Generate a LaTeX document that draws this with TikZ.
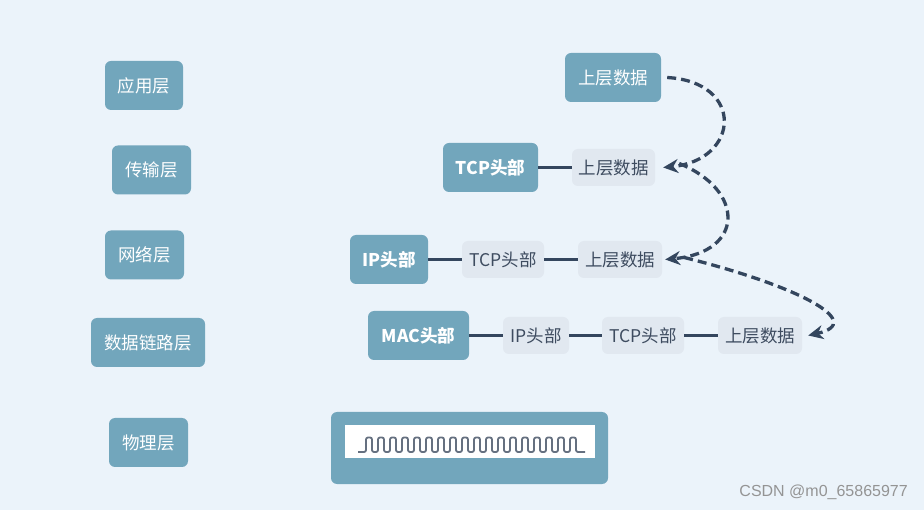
\documentclass[tikz,border=0pt]{standalone}
\usepackage{fontspec}
\setmainfont{Noto Sans CJK SC}
\newfontfamily\wmfont{Liberation Sans}
\usetikzlibrary{arrows.meta}
\definecolor{bgc}{HTML}{EBF3FA}
\definecolor{bluebox}{HTML}{72A6BC}
\definecolor{graybox}{HTML}{E1E8F0}
\definecolor{darkline}{HTML}{34465E}
\definecolor{graytext}{HTML}{3E4C60}
\tikzset{
  layerbox/.style={fill=bluebox, rounded corners=6pt, text=white, font=\fontsize{17.5}{20}\selectfont, inner sep=0pt, minimum height=49pt},
  headbox/.style={fill=bluebox, rounded corners=6pt, text=white, font=\fontsize{17.5}{20}\selectfont\bfseries, inner sep=0pt, minimum height=49pt},
  databox/.style={fill=graybox, rounded corners=6pt, text=graytext, font=\fontsize{17.5}{20}\selectfont, inner sep=0pt, minimum height=37pt},
  link/.style={draw=darkline, line width=2.5pt},
  flow/.style={draw=darkline, line width=3.3pt, dash pattern=on 9pt off 5pt, -{Stealth[length=15pt,width=14pt]}}
}
\begin{document}
\begin{tikzpicture}[x=1pt,y=-1pt]
\fill[bgc] (0,0) rectangle (924,510);
\useasboundingbox (0,0) rectangle (924,510);
% left column
\node[layerbox, minimum width=78pt] (app) at (144,85.5) {应用层};
\node[layerbox, minimum width=79pt] (trans) at (151.5,170) {传输层};
\node[layerbox, minimum width=79pt] (net) at (144.5,255) {网络层};
\node[layerbox, minimum width=114pt] (link) at (148,342.5) {数据链路层};
\node[layerbox, minimum width=79pt] (phys) at (148.5,442.5) {物理层};
% application
\node[layerbox, minimum width=96pt] (d1) at (613,77.5) {上层数据};
% transport
\node[headbox, minimum width=95pt] (tcph) at (490.5,167.5) {TCP头部};
\node[databox, minimum width=83pt] (d2) at (613.5,167.5) {上层数据};
% network
\node[headbox, minimum width=78pt] (iph) at (389,259.5) {IP头部};
\node[databox, minimum width=82pt] (t3) at (503,259.5) {TCP头部};
\node[databox, minimum width=84pt] (d3) at (620,259.5) {上层数据};
% link
\node[headbox, minimum width=101pt] (mach) at (418.5,335.5) {MAC头部};
\node[databox, minimum width=66pt] (i4) at (536,335.5) {IP头部};
\node[databox, minimum width=82pt] (t4) at (643,335.5) {TCP头部};
\node[databox, minimum width=84pt] (d4) at (760,335.5) {上层数据};
% connectors
\draw[link] (tcph) -- (d2);
\draw[link] (iph) -- (t3);
\draw[link] (t3) -- (d3);
\draw[link] (mach) -- (i4);
\draw[link] (i4) -- (t4);
\draw[link] (t4) -- (d4);
% dashed flows
\draw[flow] ([xshift=6pt]d1.east) .. controls (745,82) and (740,160) .. ([xshift=8pt]d2.east);
\draw[flow] ([xshift=24pt,yshift=4pt]d2.east) .. controls (745,190) and (745,252) .. ([xshift=3pt]d3.east);
\draw[flow] ([xshift=22pt,yshift=2pt]d3.east) .. controls (795,285) and (868,322) .. ([xshift=6pt]d4.east);
% physical layer
\node[fill=bluebox, rounded corners=6pt, minimum width=277pt, minimum height=72pt, inner sep=0pt] (wire) at (469.5,448) {};
\node[fill=white, minimum width=250pt, minimum height=33pt, inner sep=0pt] (sig) at (470,441.5) {};
\draw[draw=graytext!80, line width=1.8pt, rounded corners=2pt]
  (358,452) -- (366,452)
  \foreach \i in {0,...,17} { -- ({366+\i*12},437.5) -- ({372+\i*12},437.5) -- ({372+\i*12},452) -- ({378+\i*12},452) }
  -- (585,452);
% watermark
\node[text=black!42, font=\wmfont\fontsize{16}{18}\selectfont, anchor=east, inner sep=0pt] (wm) at (908,492) {CSDN @m0\_65865977};
\end{tikzpicture}
\end{document}
